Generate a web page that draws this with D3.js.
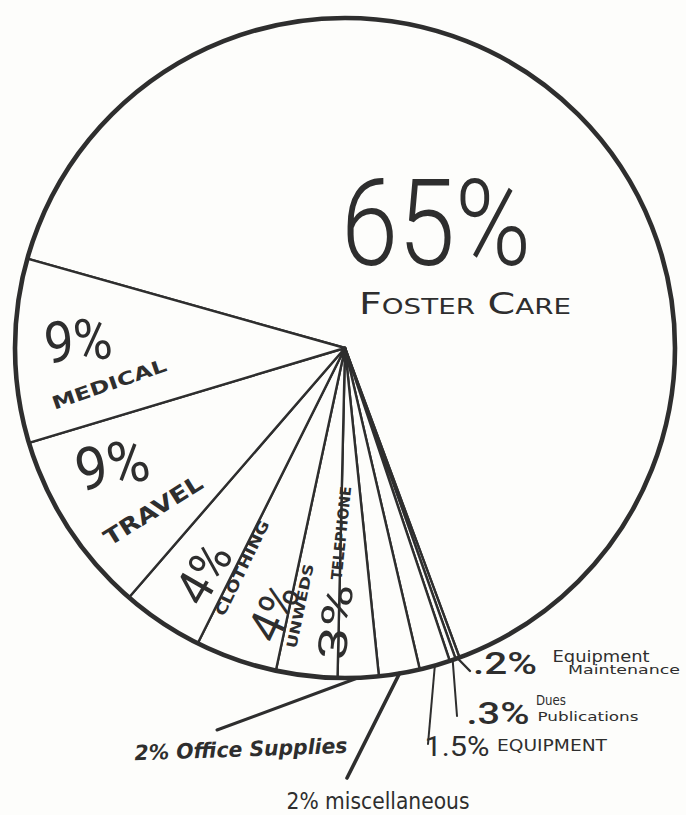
<!DOCTYPE html>
<html><head><meta charset="utf-8">
<script src="https://cdn.jsdelivr.net/npm/d3@7"></script>
<style>html,body{margin:0;padding:0;background:#fdfdfb;} svg{display:block;}</style>
</head><body><svg id="c" width="686" height="815"></svg>
<script>
// ---- data ----
const categories = ["Foster Care","Equipment Maintenance","Dues Publications","Equipment","Miscellaneous","Office Supplies","Telephone","Unweds","Clothing","Travel","Medical"];
const values = [65, 0.2, 0.3, 1.5, 2, 2, 3, 4, 4, 9, 9];
const valueLabels = ["65%", ".2%", ".3%", "1.5%", "2%", "2%", "3%", "4%", "4%", "9%", "9%"];
const nameLines = [["Foster Care"],["Equipment","Maintenance"],["Dues","Publications"],["EQUIPMENT"],["miscellaneous"],["Office Supplies"],["TELEPHONE"],["UNWEDS"],["CLOTHING"],["TRAVEL"],["MEDICAL"]];

// ---- layout ----
const W = 686, H = 815, cx = 345, cy = 348, R = 330;
const startDeg = -74.3;
const ink = "#2e2e2e", paper = "#fdfdfb";
const rad = d => d * Math.PI / 180;

// leader line ends (absolute page coords) for slices labelled outside
const leaders = [
  {i:1, x:470, y:671, w:2.4},
  {i:2, x:457, y:716, w:2},
  {i:3, x:428, y:744, w:2},
  {i:4, x:347, y:778, w:3.6},
  {i:5, x:217, y:730, w:3}
];

// text placement
const textLayout = [
  {i:0, kind:"value", x:436, y:222, rot:0, size:120, len:190, weight:300},
  {i:0, kind:"name", line:0, x:465, y:303, rot:0, size:30, len:212, smallcaps:true},
  {i:10, kind:"value", x:78, y:340, rot:-5, size:58, len:68},
  {i:10, kind:"name", line:0, x:109, y:384, rot:-19, size:18, len:120, weight:700},
  {i:9, kind:"value", x:112, y:464, rot:-10, size:60, len:74},
  {i:9, kind:"name", line:0, x:153, y:510, rot:-32, size:22, len:112, weight:700},
  {i:8, kind:"value", x:203, y:573, rot:-60, size:50, len:62},
  {i:8, kind:"name", line:0, x:242, y:568, rot:-64, size:15, len:104, weight:700},
  {i:7, kind:"value", x:273, y:612, rot:-65, size:48, len:58},
  {i:7, kind:"name", line:0, x:300, y:606, rot:-78, size:14, len:86, weight:700},
  {i:6, kind:"value", x:335, y:622, rot:-84, size:40, len:76},
  {i:6, kind:"name", line:0, x:341, y:533, rot:-84, size:15, len:94, weight:700},
  {i:1, kind:"value", x:505, y:662, rot:0, size:32, len:64, weight:500},
  {i:1, kind:"name", line:0, x:601, y:656, rot:0, size:16, len:97},
  {i:1, kind:"name", line:1, x:624, y:669, rot:0, size:13, len:112},
  {i:2, kind:"value", x:498, y:712, rot:0, size:32, len:63, weight:500},
  {i:2, kind:"name", line:0, x:551, y:700, rot:0, size:14, len:30},
  {i:2, kind:"name", line:1, x:588, y:716, rot:0, size:13, len:101},
  {i:3, kind:"value", x:457, y:746, rot:0, size:28, len:65},
  {i:3, kind:"name", line:0, x:552, y:745, rot:0, size:16, len:110},
  {i:5, kind:"both", x:241, y:749, rot:-2, size:21, len:213, weight:700, italic:true},
  {i:4, kind:"both", x:378, y:801, rot:0, size:23, len:183}
];

// ---- drawing ----
const svg = d3.select("#c");
svg.append("rect").attr("width", W).attr("height", H).attr("fill", paper);
const g = svg.append("g").attr("transform", `translate(${cx},${cy})`);

const pie = d3.pie().sort(null).value(d => d)
  .startAngle(rad(startDeg)).endAngle(rad(startDeg) + 2 * Math.PI);
const arcs = pie(values);
const arc = d3.arc().innerRadius(0).outerRadius(R);
const rim = d3.arc().innerRadius(R).outerRadius(R);

g.selectAll("path.slice").data(arcs).join("path")
  .attr("class", "slice")
  .attr("d", arc)
  .attr("fill", paper)
  .attr("stroke", ink)
  .attr("stroke-width", 2.4)
  .attr("stroke-linejoin", "round");

g.append("circle").attr("r", R).attr("fill", "none")
  .attr("stroke", ink).attr("stroke-width", 4.6);

g.selectAll("line.leader").data(leaders).join("line")
  .attr("class", "leader")
  .attr("x1", d => rim.centroid(arcs[d.i])[0])
  .attr("y1", d => rim.centroid(arcs[d.i])[1])
  .attr("x2", d => d.x - cx)
  .attr("y2", d => d.y - cy)
  .attr("stroke", ink)
  .attr("stroke-width", d => d.w)
  .attr("stroke-linecap", "round");

const textOf = d => d.kind === "value" ? valueLabels[d.i]
  : d.kind === "name" ? nameLines[d.i][d.line]
  : valueLabels[d.i] + " " + nameLines[d.i].join(" ");

svg.selectAll("text.lbl").data(textLayout).join("text")
  .attr("class", "lbl")
  .attr("transform", d => `translate(${d.x},${d.y}) rotate(${d.rot || 0})`)
  .attr("text-anchor", "middle")
  .attr("dy", "0.36em")
  .attr("font-family", d => d.kind === "value" ? "Roboto, 'Open Sans', sans-serif" : "'DejaVu Sans', 'Liberation Sans', sans-serif")
  .attr("font-weight", d => d.weight || 400)
  .attr("font-style", d => d.italic ? "italic" : "normal")
  .attr("font-variant", d => d.smallcaps ? "small-caps" : "normal")
  .attr("font-size", d => d.size)
  .attr("textLength", d => d.len)
  .attr("lengthAdjust", "spacingAndGlyphs")
  .attr("fill", ink)
  .text(textOf);
</script>
</body></html>
